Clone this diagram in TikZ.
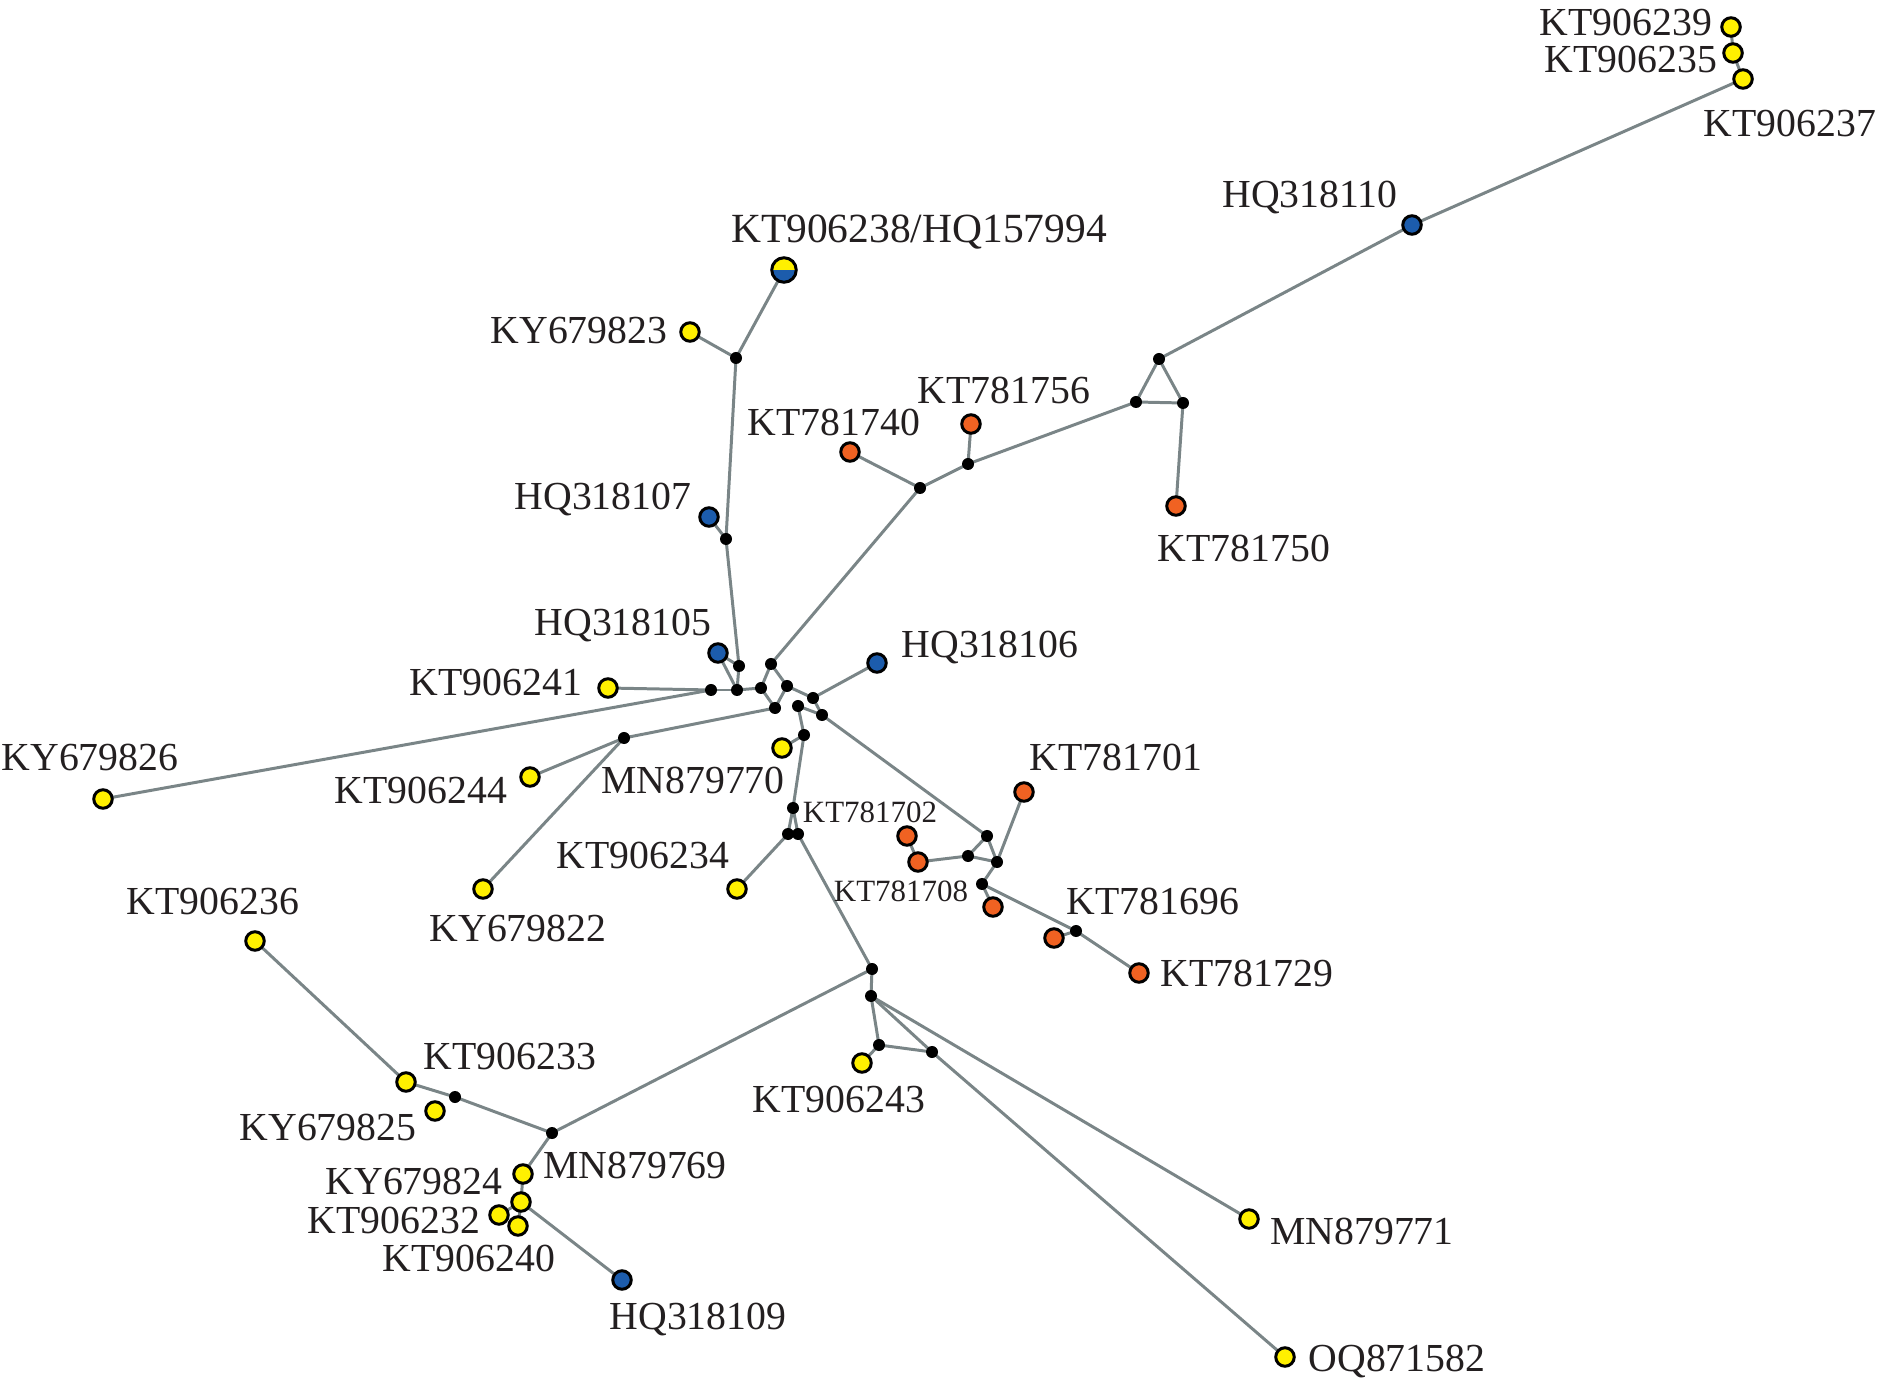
\documentclass[tikz,border=0pt]{standalone}
\usepackage{fontspec}
\setmainfont{Liberation Serif}
\usetikzlibrary{backgrounds}
\definecolor{hapyellow}{RGB}{255, 240, 0}
\definecolor{hapblue}{RGB}{28, 92, 172}
\definecolor{haporange}{RGB}{240, 98, 34}
\definecolor{linkgray}{RGB}{122, 133, 135}
\definecolor{labelink}{RGB}{35, 31, 32}

\begin{document}
\begin{tikzpicture}[x=0.01cm,y=-0.01cm]
    \useasboundingbox (0,0) rectangle (1879,1386);
    \tikzset{
        hap/.style={circle, draw=black, line width=0.85pt, inner sep=0pt, minimum size=0.185cm},
        yel/.style={hap, fill=hapyellow},
        blu/.style={hap, fill=hapblue},
        ora/.style={hap, fill=haporange},
        med/.style={circle, fill=black, inner sep=0pt, minimum size=0.12cm},
        lnk/.style={draw=linkgray, line width=0.85pt},
        lab/.style={text=labelink, inner sep=0pt, font=\fontsize{11.3}{13}\selectfont},
        labs/.style={text=labelink, inner sep=0pt, font=\fontsize{8.8}{10}\selectfont}
    }

    % Haplotypes
    \node[yel] (y239) at (1731,27) {};
    \node[yel] (y235) at (1733,53) {};
    \node[yel] (y237) at (1743,79) {};
    \node[blu] (b110) at (1412,225) {};
    \node[hap, minimum size=0.245cm, fill=hapyellow,
          path picture={\fill[hapblue] (path picture bounding box.west) rectangle (path picture bounding box.south east);}]
          (big) at (784,270) {};
    \node[yel] (y823) at (690,332) {};
    \node[ora] (o756) at (971,424) {};
    \node[ora] (o740) at (850,452) {};
    \node[ora] (o750) at (1176,506) {};
    \node[blu] (b107) at (709,517) {};
    \node[blu] (b105) at (718,653) {};
    \node[blu] (b106) at (877,663) {};
    \node[yel] (y241) at (608,688) {};
    \node[yel] (y826) at (103,799) {};
    \node[yel] (y244) at (530,777) {};
    \node[yel] (y770) at (782,748) {};
    \node[ora] (o701) at (1024,792) {};
    \node[ora] (o702) at (907,836) {};
    \node[ora] (o2a) at (918,862) {};
    \node[ora] (o708) at (993,907) {};
    \node[ora] (o696) at (1054,938) {};
    \node[ora] (o729) at (1139,973) {};
    \node[yel] (y234) at (737,889) {};
    \node[yel] (y822) at (483,889) {};
    \node[yel] (y236) at (255,941) {};
    \node[yel] (y233) at (406,1082) {};
    \node[yel] (y825) at (435,1111) {};
    \node[yel] (y243) at (862,1063) {};
    \node[yel] (y769) at (523,1174) {};
    \node[yel] (y824) at (521,1202) {};
    \node[yel] (y232) at (499,1215) {};
    \node[yel] (y240) at (518,1226) {};
    \node[blu] (b109) at (622,1280) {};
    \node[yel] (y771) at (1249,1219) {};
    \node[yel] (y582) at (1285,1357) {};

    % Median vectors
    \node[med] (f1) at (736,358) {};
    \node[med] (f2) at (726,539) {};
    \node[med] (g1) at (968,464) {};
    \node[med] (g2) at (920,488) {};
    \node[med] (t1) at (1159,359) {};
    \node[med] (t2) at (1136,402) {};
    \node[med] (t3) at (1183,403) {};
    \node[med] (a1) at (739,666) {};
    \node[med] (a2) at (711,690) {};
    \node[med] (a3) at (737,690) {};
    \node[med] (a4) at (761,688) {};
    \node[med] (a5) at (771,664) {};
    \node[med] (a6) at (787,686) {};
    \node[med] (a7) at (775,708) {};
    \node[med] (a8) at (798,706) {};
    \node[med] (a9) at (813,698) {};
    \node[med] (a10) at (822,715) {};
    \node[med] (a11) at (804,735) {};
    \node[med] (b1) at (793,808) {};
    \node[med] (b2) at (788,834) {};
    \node[med] (b3) at (798,834) {};
    \node[med] (h1) at (624,738) {};
    \node[med] (d1) at (968,856) {};
    \node[med] (d2) at (987,836) {};
    \node[med] (d3) at (997,862) {};
    \node[med] (d4) at (982,884) {};
    \node[med] (d5) at (1076,931) {};
    \node[med] (c1) at (872,969) {};
    \node[med] (c2) at (871,996) {};
    \node[med] (c3) at (879,1045) {};
    \node[med] (c4) at (932,1052) {};
    \node[med] (e1) at (455,1097) {};
    \node[med] (e2) at (552,1133) {};

    % Links
    \begin{scope}[on background layer]
        \foreach \u/\v in {y239/y235, y235/y237, y237/b110, b110/t1, t1/t2, t1/t3, t2/t3, t3/o750,
                           t2/g1, g1/o756, g1/g2, g2/o740, g2/a5,
                           big/f1, y823/f1, f1/f2, f2/b107, f2/a1,
                           b105/a1, b105/a3, a1/a3, a2/a3, a2/y241, a2/y826, a3/a4,
                           a4/a5, a4/a7, a5/a6, a6/a7, a7/h1, h1/y244, h1/y822,
                           a6/a9, a9/b106, a9/a10, a8/a10, a8/a11, a11/y770, a11/b1, a10/d2,
                           b1/b2, b1/b3, b2/y234, b3/c1,
                           o702/o2a, o2a/d1, d1/d2, d1/d3, d2/d3, d3/o701, d3/d4, d4/o708,
                           d4/d5, d5/o696, d5/o729,
                           c1/c2, c1/e2, c2/c3, c3/y243, c3/c4, c2/c4, c4/y582, c2/y771,
                           e2/e1, e1/y233, y233/y236, e2/y769, y769/y824, y824/b109,
                           y824/y232, y824/y240}
            \draw[lnk] (\u.center) -- (\v.center);
    \end{scope}

    % Labels
    \node[lab] (l239) at (1626,22) {KT906239};
    \node[lab] (l235) at (1631,59) {KT906235};
    \node[lab] (l237) at (1790,123) {KT906237};
    \node[lab] (l110) at (1310,198) {HQ318110};
    \node[lab, font=\fontsize{11.8}{13}\selectfont] (lbig) at (919,232) {KT906238/HQ157994};
    \node[lab] (l823) at (579,330) {KY679823};
    \node[lab] (l756) at (1004,390) {KT781756};
    \node[lab] (l740) at (834,422) {KT781740};
    \node[lab] (l750) at (1244,548) {KT781750};
    \node[lab] (l107) at (603,500) {HQ318107};
    \node[lab] (l105) at (623,626) {HQ318105};
    \node[lab] (l106) at (990,648) {HQ318106};
    \node[lab] (l241) at (496,682) {KT906241};
    \node[lab] (l826) at (90,757) {KY679826};
    \node[lab] (l244) at (421,790) {KT906244};
    \node[lab] (l770) at (693,780) {MN879770};
    \node[lab] (l701) at (1116,757) {KT781701};
    \node[labs] (l702) at (870,812) {KT781702};
    \node[lab] (l234) at (643,855) {KT906234};
    \node[labs] (l708) at (901,891) {KT781708};
    \node[lab] (l696) at (1153,901) {KT781696};
    \node[lab] (l822) at (518,928) {KY679822};
    \node[lab] (l236) at (213,901) {KT906236};
    \node[lab] (l729) at (1247,973) {KT781729};
    \node[lab] (l233) at (510,1056) {KT906233};
    \node[lab] (l243) at (839,1099) {KT906243};
    \node[lab] (l825) at (328,1127) {KY679825};
    \node[lab] (l769) at (635,1165) {MN879769};
    \node[lab] (l824) at (414,1181) {KY679824};
    \node[lab] (l232) at (394,1220) {KT906232};
    \node[lab] (l240) at (469,1258) {KT906240};
    \node[lab] (l109) at (698,1320) {HQ318109};
    \node[lab] (l771) at (1362,1231) {MN879771};
    \node[lab] (l582) at (1397,1361) {OQ871582};
\end{tikzpicture}
\end{document}
